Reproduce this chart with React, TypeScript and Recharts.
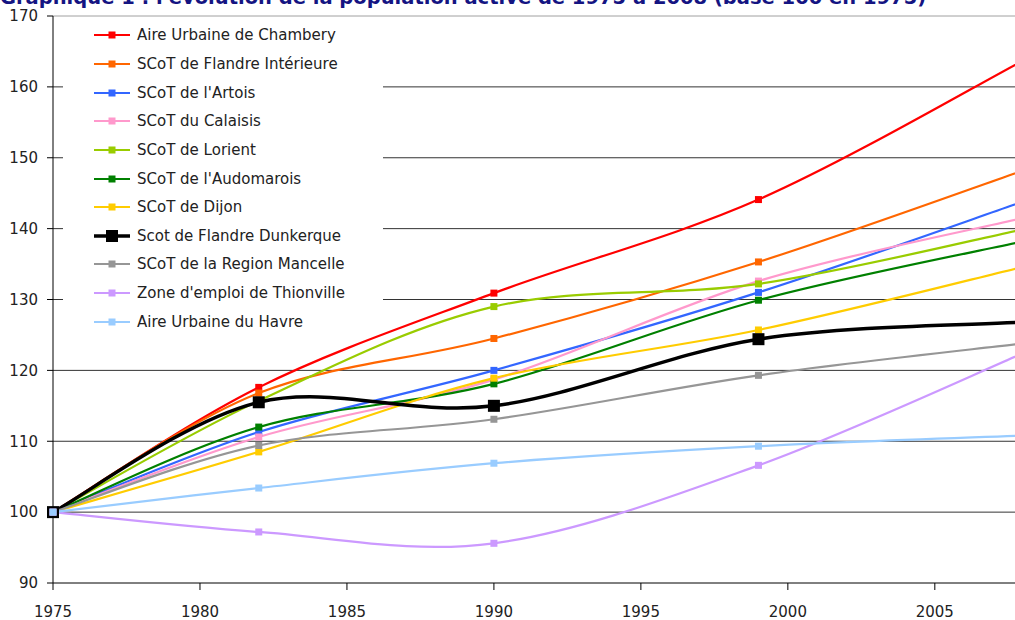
import React from 'react';
import { LineChart, Line, XAxis, YAxis, CartesianGrid, ReferenceLine, Legend } from 'recharts';

// années des recensements (base 100 en 1975)
const years = [1975, 1982, 1990, 1999, 2008];

const chambery = [100, 117.6, 130.9, 144.1, 163.7];
const flandreInterieure = [100, 116.8, 124.5, 135.3, 148.2];
const artois = [100, 111.3, 120.0, 131.0, 143.8];
const calaisis = [100, 110.6, 118.7, 132.6, 141.5];
const lorient = [100, 115.7, 129.0, 132.2, 139.9];
const audomarois = [100, 112.0, 118.1, 129.9, 138.2];
const dijon = [100, 108.5, 118.9, 125.7, 134.6];
const dunkerque = [100, 115.5, 115.0, 124.4, 126.8];
const mancelle = [100, 109.4, 113.1, 119.3, 123.8];
const thionville = [100, 97.2, 95.6, 106.6, 122.4];
const havre = [100, 103.4, 106.9, 109.3, 110.8];

const yTicks = [90, 100, 110, 120, 130, 140, 150, 160, 170];
const xTicks = [1975, 1980, 1985, 1990, 1995, 2000, 2005];

const title = "Graphique 1 : l'évolution de la population active de 1975 à 2008 (base 100 en 1975)";

const series = [
  { key: 'chambery', name: 'Aire Urbaine de Chambery', color: '#FF0000', values: chambery },
  { key: 'flandreInt', name: 'SCoT de Flandre Intérieure', color: '#FF6600', values: flandreInterieure },
  { key: 'artois', name: "SCoT de l'Artois", color: '#3366FF', values: artois },
  { key: 'calaisis', name: 'SCoT du Calaisis', color: '#FF99CC', values: calaisis },
  { key: 'lorient', name: 'SCoT de Lorient', color: '#99CC00', values: lorient },
  { key: 'audomarois', name: "SCoT de l'Audomarois", color: '#008000', values: audomarois },
  { key: 'dijon', name: 'SCoT de Dijon', color: '#FFCC00', values: dijon },
  { key: 'dunkerque', name: 'Scot de Flandre Dunkerque', color: '#000000', values: dunkerque, bold: true },
  { key: 'mancelle', name: 'SCoT de la Region Mancelle', color: '#969696', values: mancelle },
  { key: 'thionville', name: "Zone d'emploi de Thionville", color: '#CC99FF', values: thionville },
  { key: 'havre', name: 'Aire Urbaine du Havre', color: '#99CCFF', values: havre },
];

const data = years.map((year, i) => {
  const row: Record<string, number> = { year };
  series.forEach((s) => {
    row[s.key] = s.values[i];
  });
  return row;
});

const FONT = '"DejaVu Sans", Verdana, sans-serif';

// lissage façon Excel (Catmull-Rom)
const smoothCurve = (ctx: any) => {
  let pts: number[][] = [];
  return {
    areaStart() {},
    areaEnd() {},
    lineStart() {
      pts = [];
    },
    point(x: number, y: number) {
      pts.push([+x, +y]);
    },
    lineEnd() {
      if (!pts.length) return;
      ctx.moveTo(pts[0][0], pts[0][1]);
      for (let i = 0; i < pts.length - 1; i++) {
        const p0 = pts[Math.max(i - 1, 0)];
        const p1 = pts[i];
        const p2 = pts[i + 1];
        const p3 = pts[Math.min(i + 2, pts.length - 1)];
        ctx.bezierCurveTo(
          p1[0] + (p2[0] - p0[0]) / 6,
          p1[1] + (p2[1] - p0[1]) / 6,
          p2[0] - (p3[0] - p1[0]) / 6,
          p2[1] - (p3[1] - p1[1]) / 6,
          p2[0],
          p2[1]
        );
      }
    },
  };
};

const squareDot = (id: string, color: string, size: number) => (props: any) => {
  const { cx, cy, index } = props;
  if (cx == null || cy == null) return <g key={`${id}-${index}`} />;
  return <rect key={`${id}-${index}`} x={cx - size / 2} y={cy - size / 2} width={size} height={size} fill={color} />;
};

const renderLegend = () => (
  <div style={{ background: '#fff', width: 320, height: 312, paddingTop: 3, boxSizing: 'border-box', fontFamily: FONT, fontSize: 15, color: '#222' }}>
    {series.map((s) => {
      const m = s.bold ? 12 : 7;
      return (
        <div key={s.key} style={{ height: 28.65, display: 'flex', alignItems: 'center' }}>
          <svg width={36} height={14} style={{ marginLeft: 31, marginRight: 7, flexShrink: 0 }}>
            <line x1={0} y1={7} x2={36} y2={7} stroke={s.color} strokeWidth={s.bold ? 3.5 : 2.2} />
            <rect x={18 - m / 2} y={7 - m / 2} width={m} height={m} fill={s.color} />
          </svg>
          <span style={{ whiteSpace: 'nowrap' }}>{s.name}</span>
        </div>
      );
    })}
  </div>
);

export default function App() {
  return (
    <div style={{ position: 'absolute', left: 0, top: 0, width: 1015, height: 620, overflow: 'hidden', background: '#fff' }}>
      <div style={{ position: 'absolute', left: 0, top: -12, fontFamily: FONT, fontWeight: 'bold', fontSize: 19.5, lineHeight: '19.5px', color: '#141482', whiteSpace: 'nowrap' }}>
        {title}
      </div>
      <LineChart width={1024} height={620} data={data} margin={{ top: 16, right: 1, bottom: 0, left: 0 }}>
        <CartesianGrid horizontal vertical={false} stroke="#333" horizontalValues={[100, 110, 120, 130, 140, 150, 160]} />
        <ReferenceLine y={170} stroke="#a0a0a0" />
        <XAxis
          dataKey="year"
          type="number"
          domain={[1975, 2008]}
          ticks={xTicks}
          height={37}
          tickSize={7}
          tickMargin={16}
          stroke="#000"
          tick={{ fill: '#222', fontSize: 15, fontFamily: FONT }}
        />
        <YAxis
          type="number"
          domain={[90, 170]}
          ticks={yTicks}
          width={53}
          tickSize={6}
          tickMargin={9}
          stroke="#000"
          tick={{ fill: '#222', fontSize: 15, fontFamily: FONT }}
        />
        <Legend
          layout="vertical"
          align="center"
          verticalAlign="middle"
          content={renderLegend}
          wrapperStyle={{ left: 63, top: 18, width: 320, height: 312 }}
        />
        {series.map((s) => (
          <Line
            key={s.key}
            dataKey={s.key}
            name={s.name}
            type={smoothCurve as any}
            stroke={s.color}
            strokeWidth={s.bold ? 3.5 : 2.2}
            dot={squareDot(s.key, s.color, s.bold ? 12 : 7)}
            activeDot={false}
            isAnimationActive={false}
          />
        ))}
      </LineChart>
    </div>
  );
}
